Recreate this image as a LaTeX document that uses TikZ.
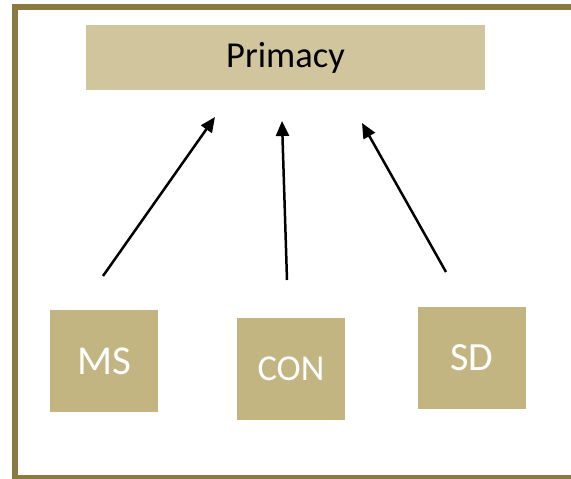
\documentclass[tikz,border=0pt]{standalone}
\usepackage{fontspec}
\setmainfont{Carlito}
\usetikzlibrary{arrows.meta}
\definecolor{framebrown}{HTML}{8A7A42}
\definecolor{headfill}{HTML}{D1C59D}
\definecolor{boxfill}{HTML}{C2B582}
\begin{document}
\begin{tikzpicture}[x=1pt,y=-1pt,
  header/.style={fill=headfill, draw=none, minimum width=399pt, minimum height=65pt,
    inner sep=0pt, text=black, font=\fontsize{36.5}{42}\selectfont},
  factor/.style={fill=boxfill, draw=none, minimum width=108pt, minimum height=102pt,
    inner sep=0pt, text=white},
  link/.style={line width=2.5pt, -{Triangle[length=15pt,width=13pt]}}]
  \useasboundingbox (0,0) rectangle (571,479);
  % outer frame, running past the right edge
  \draw[framebrown, line width=6pt] (14.5,6.5) rectangle (580,478);
  % header box
  \node[header] (primacy) at (285.5,57.5) {Primacy};
  % contributing factors
  \node[factor, font=\fontsize{41}{47}\selectfont] (ms) at (104,361) {MS};
  \node[factor, font=\fontsize{36.5}{42}\selectfont] (con) at (291,369) {CON};
  \node[factor, font=\fontsize{40}{46}\selectfont] (sd) at (472,358) {SD};
  % arrow tails and tips
  \coordinate (msTail) at (103,276);
  \coordinate (conTail) at (287,280);
  \coordinate (sdTail) at (446,272);
  \coordinate (msTip) at (215,117);
  \coordinate (conTip) at (282,121);
  \coordinate (sdTip) at (362,123);
  \draw[link] (msTail) -- (msTip);
  \draw[link] (conTail) -- (conTip);
  \draw[link] (sdTail) -- (sdTip);
\end{tikzpicture}
\end{document}
